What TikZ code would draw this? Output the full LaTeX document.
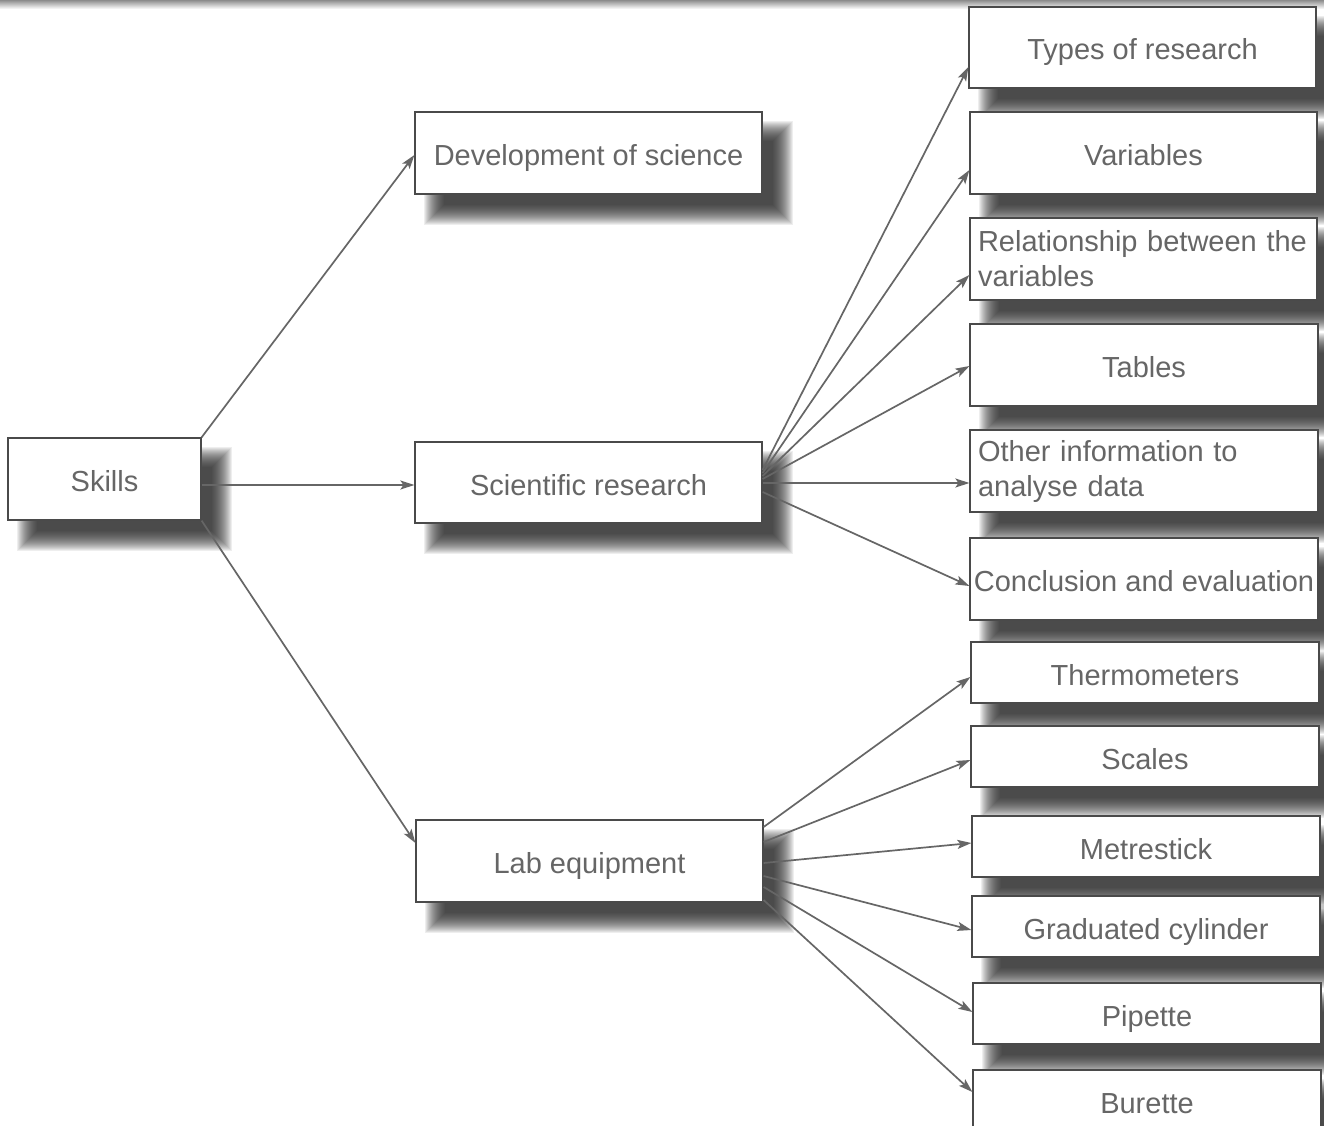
\documentclass[tikz,border=0pt]{standalone}
\usepackage{fontspec}
\setmainfont{Liberation Sans}
\usetikzlibrary{arrows.meta,calc,backgrounds}
\definecolor{txt}{HTML}{666666}
\definecolor{edgec}{HTML}{4A4A4A}
\definecolor{lnc}{HTML}{666666}
\tikzset{
 basebox/.style={draw=edgec, line width=1.2pt, fill=white, rectangle, inner sep=0pt,
   minimum width=347pt, minimum height=82pt, text=txt,
   font=\fontsize{29}{35}\selectfont},
 box/.style={basebox, text height=26pt, text depth=1pt},
 lbox/.style={basebox, text width=331pt, align=left},
 sbox/.style={box, minimum width=348pt, minimum height=61pt},
 arr/.style={draw=lnc, line width=1.7pt, -{Stealth[length=14pt,width=9pt,inset=3pt]}},
 shadowlayer/.style={fill=black!85, fill opacity=0.075, draw=none}
}
\begin{document}
\begin{tikzpicture}[x=1pt,y=-1pt]
\useasboundingbox (0,0) rectangle (1324,1126);
\clip (0,0) rectangle (1324,1126);

\node[box, minimum width=193pt] (sk) at (104.5,479) {Skills};
\node[box] (dev) at (588.5,153) {Development of science};
\node[box, minimum height=81pt] (sr) at (588.5,482.5) {Scientific research};
\node[box] (lab) at (589.5,861) {Lab equipment};

\node[box, minimum height=81pt] (t1) at (1142.5,47.5) {Types of research};
\node[box] (t2) at (1143.5,153) {Variables};
\node[lbox] (t3) at (1143.5,259) {Relationship between the\\variables};
\node[box, minimum width=348pt] (t4) at (1144,365) {Tables};
\node[lbox, minimum width=348pt, text width=332pt] (t5) at (1144,471) {Other information to\\analyse data};
\node[box, minimum width=348pt] (t6) at (1144,579) {Conclusion and evaluation};

\node[sbox] (l1) at (1145,672.5) {Thermometers};
\node[sbox] (l2) at (1145,756.5) {Scales};
\node[sbox] (l3) at (1146,846.5) {Metrestick};
\node[sbox] (l4) at (1146,926.5) {Graduated cylinder};
\node[sbox] (l5) at (1147,1013.5) {Pipette};
\node[sbox] (l6) at (1147,1100.5) {Burette};

\begin{scope}[on background layer]
\fill[white] (0,0) rectangle (1324,1126);
\shade[top color=black!45, bottom color=white] (0,0) rectangle (1324,9);
\foreach \n in {sk,dev,sr,lab,t1,t2,t3,t4,t5,t6,l1,l2,l3,l4,l5,l6}{
  \foreach \r in {-10,-9,...,10}{
    \fill[shadowlayer] ($(\n.north west)+(20+\r,20+\r)$) rectangle ($(\n.south east)+(20-\r,20-\r)$);
  }
}
\end{scope}

\draw[arr] (sk.north east) -- ($(dev.west)+(0,2)$);
\draw[arr] ($(sk.east)+(0,6)$) -- ($(sr.west)+(0,2.5)$);
\draw[arr] (sk.south east) -- ($(lab.west)+(0,-18)$);

\draw[arr] ($(sr.east)+(0,-12.5)$) -- ($(t1.west)+(0,19.5)$);
\draw[arr] ($(sr.east)+(0,-9.5)$) -- ($(t2.west)+(0,17)$);
\draw[arr] ($(sr.east)+(0,-6.5)$) -- ($(t3.west)+(0,16)$);
\draw[arr] ($(sr.east)+(0,-3.5)$) -- ($(t4.west)+(0,1)$);
\draw[arr] ($(sr.east)+(0,0.5)$) -- ($(t5.west)+(0,12)$);
\draw[arr] ($(sr.east)+(0,9.5)$) -- ($(t6.west)+(0,7)$);

\draw[arr] ($(lab.east)+(0,-34)$) -- ($(l1.west)+(0,4.5)$);
\draw[arr] ($(lab.east)+(0,-19)$) -- ($(l2.west)+(0,3.5)$);
\draw[arr] ($(lab.east)+(0,2)$) -- ($(l3.west)+(0,-3.5)$);
\draw[arr] ($(lab.east)+(0,15)$) -- ($(l4.west)+(0,3.5)$);
\draw[arr] ($(lab.east)+(0,26)$) -- ($(l5.west)+(0,-1.5)$);
\draw[arr] ($(lab.east)+(0,39)$) -- ($(l6.west)+(0,-8.5)$);
\end{tikzpicture}
\end{document}
